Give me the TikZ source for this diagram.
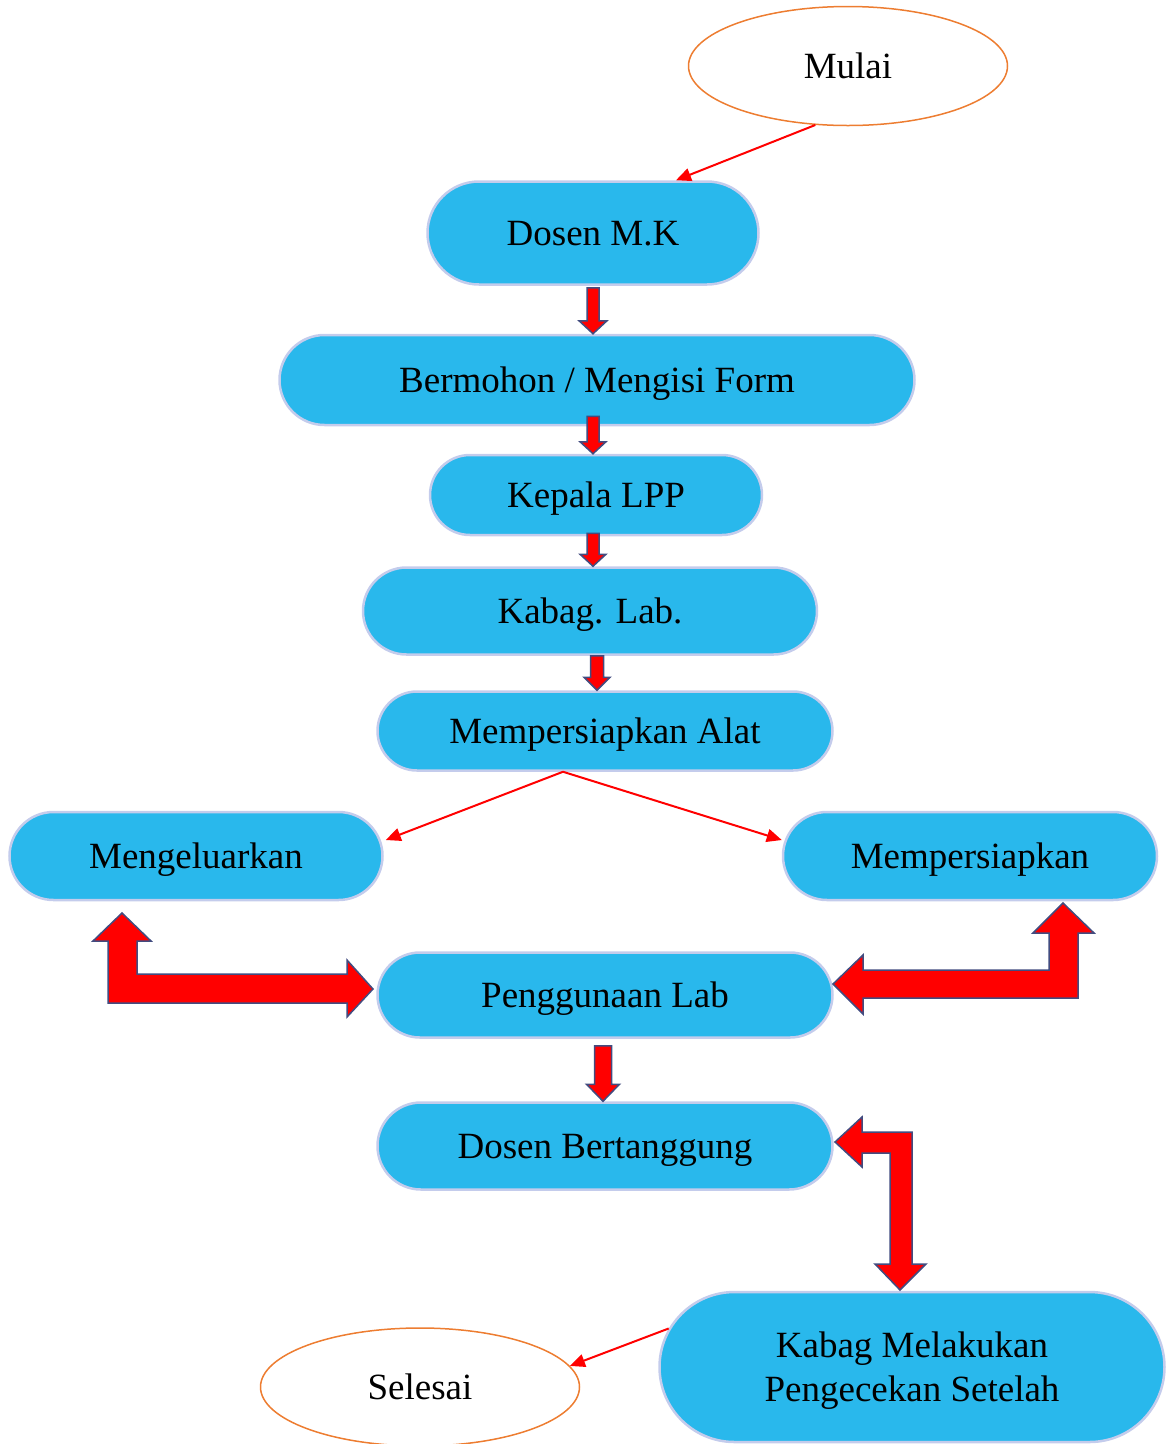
\documentclass[tikz,border=0pt]{standalone}
\usepackage{fontspec}
\setmainfont{Liberation Serif}
\usetikzlibrary{shapes.geometric,shapes.misc,arrows.meta,calc}

\definecolor{boxblue}{RGB}{41,184,236}
\definecolor{boxline}{RGB}{196,204,236}
\definecolor{ovalline}{RGB}{237,125,49}
\definecolor{arrowline}{RGB}{66,76,128}

\tikzset{
  basebox/.style={rounded rectangle, fill=boxblue, draw=boxline, line width=2.5pt,
    inner sep=0pt, font=\fontsize{37}{44}\selectfont},
  flowbox/.style={basebox, text height=24.5pt, text depth=0pt},
  terminal/.style={ellipse, draw=ovalline, line width=1.5pt, inner sep=0pt,
    minimum width=319pt, font=\fontsize{37}{44}\selectfont, text height=24.5pt, text depth=0pt},
  thinarrow/.style={draw=red, line width=2pt, -{Triangle[length=15pt,width=13pt]}},
  blockarrow/.style={fill=red, draw=arrowline, line width=1.5pt, line join=miter},
}

\begin{document}
\begin{tikzpicture}[x=1pt,y=-1pt]
      \useasboundingbox (0,0) rectangle (1167,1444);

      % start / end
      \node[terminal,minimum height=119pt] (mulai) at (848,66) {Mulai};
      \node[terminal,minimum height=118pt] (selesai) at (420,1387) {Selesai};

      % main column
      \node[flowbox,minimum width=331pt,minimum height=103pt] (dosen) at (593,233) {Dosen M.K};
      \node[flowbox,minimum width=635pt,minimum height=90pt] (bermohon) at (597,380) {Bermohon / Mengisi Form};
      \node[flowbox,minimum width=332pt,minimum height=80pt] (kepala) at (596,495) {Kepala LPP};
      \node[flowbox,minimum width=454pt,minimum height=87pt] (kabag) at (590,611) {Kabag. Lab.};
      \node[flowbox,minimum width=455pt,minimum height=79pt] (alat) at (605,731) {Mempersiapkan Alat};
      \node[flowbox,minimum width=373pt,minimum height=88pt] (keluar) at (196,856) {Mengeluarkan};
      \node[flowbox,minimum width=374pt,minimum height=88pt] (siapkan) at (970,856) {Mempersiapkan};
      \node[flowbox,minimum width=455pt,minimum height=85pt] (usage) at (605,995) {Penggunaan Lab};
      \node[flowbox,minimum width=455pt,minimum height=87pt] (dosenbt) at (605,1146) {Dosen Bertanggung};
      \node[basebox,align=center,text depth=0pt,minimum width=505pt,minimum height=150pt] (cek) at (912,1367)
        {Kabag Melakukan\\Pengecekan Setelah};

      % thin connectors
      \draw[thinarrow] (mulai.241) -- ($(dosen.north)+(83,0)$);
      \draw[thinarrow] ($(alat.south)+(-42,0)$) -- ($(keluar.east)+(2,-16)$);
      \draw[thinarrow] ($(alat.south)+(-42,0)$) -- ($(siapkan.west)+(0,-16)$);
      \draw[thinarrow] (cek.171) -- (selesai.8);

      % small block arrows (x offset, start offset, shaft, head, head length)
      \foreach \a/\b/\dx/\st/\sw/\hw/\hl in {dosen/bermohon/0/2/6/14/13, bermohon/kepala/-4/-10/6/13/12,
          kepala/kabag/-3/-3/6/13/12, kabag/alat/7/0/6.5/13/13, usage/dosenbt/-2/7/8.5/16.5/17} {
        \draw[blockarrow] ($(\a.south)+(\dx-\sw,\st)$) -- ($(\a.south)+(\dx+\sw,\st)$)
          -- ($(\a.south |- \b.north)+(\dx+\sw,-\hl)$) -- ($(\a.south |- \b.north)+(\dx+\hw,-\hl)$)
          -- ($(\a.south |- \b.north)+(\dx,0)$)
          -- ($(\a.south |- \b.north)+(\dx-\hw,-\hl)$) -- ($(\a.south |- \b.north)+(\dx-\sw,-\hl)$) -- cycle;
      }

      % bent block arrows
      \draw[blockarrow] (108,1003) -- (108,941) -- (93,941) -- (122,913) -- (151,941) -- (137,941)
        -- (137,974) -- (347,974) -- (347,960) -- (373,989) -- (347,1017) -- (347,1003) -- cycle;
      \draw[blockarrow] (833,984) -- (863,955) -- (863,970) -- (1049,970) -- (1049,933) -- (1033,933)
        -- (1063,903) -- (1094,933) -- (1078,933) -- (1078,998) -- (863,998) -- (863,1014) -- cycle;
      \draw[blockarrow] (835,1142) -- (862,1117) -- (862,1132) -- (912,1132) -- (912,1264) -- (926,1264)
        -- (900,1290) -- (875,1264) -- (890,1264) -- (890,1153) -- (862,1153) -- (862,1167) -- cycle;
\end{tikzpicture}
\end{document}
